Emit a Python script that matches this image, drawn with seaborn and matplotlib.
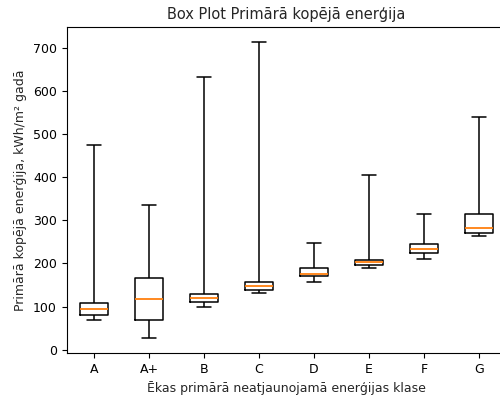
import numpy as np
import pandas as pd
import matplotlib
matplotlib.use("Agg")
import matplotlib.pyplot as plt
import seaborn as sns

classes = ["A", "A+", "B", "C", "D", "E", "F", "G"]
mins = [68, 27, 100, 131, 157, 190, 210, 264]
q1s = [80, 70, 110, 139, 170, 196, 224, 270]
medians = [94, 118, 119, 147, 176, 204, 234, 283]
q3s = [109, 166, 129, 156, 190, 208, 245, 315]
maxs = [475, 335, 632, 714, 247, 405, 315, 540]

rows = []
for c, a, b, m, d, e in zip(classes, mins, q1s, medians, q3s, maxs):
    for v in (a, b, m, d, e):
        rows.append({"klase": c, "val": v})
df = pd.DataFrame(rows)

sns.set_style("white")
fig = plt.figure(figsize=(5, 3.96), dpi=100)
ax = fig.add_axes([0.133, 0.109, 0.88, 0.823])
sns.boxplot(data=df, x="klase", y="val", order=classes, whis=(0, 100),
            width=0.5, fill=False, color="black", linewidth=1.1,
            medianprops={"color": "#ff7f0e", "linewidth": 1.3}, ax=ax)
for s in ax.spines.values():
    s.set_visible(True)
    s.set_color("black")
    s.set_linewidth(0.8)
ax.tick_params(axis="both", which="both", direction="out", length=3.5, width=0.8,
               colors="black", labelsize=9, left=True, bottom=True)
ax.set_ylim(-7, 748)
ax.set_yticks([0, 100, 200, 300, 400, 500, 600, 700])
ax.set_title("Box Plot Primārā kopējā enerģija", fontsize=10.5)
ax.set_xlabel("Ēkas primārā neatjaunojamā enerģijas klase", fontsize=9)
ax.set_ylabel("Primārā kopējā enerģija, kWh/m² gadā", fontsize=9)
fig.savefig("out.png", dpi=100)
